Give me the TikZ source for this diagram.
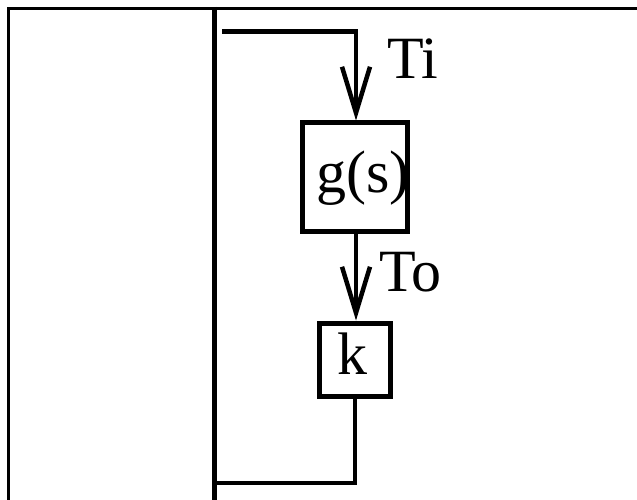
\documentclass[tikz,border=0pt]{standalone}
\usepackage{fontspec}
\setmainfont{Liberation Serif}
\usetikzlibrary{arrows.meta}
\begin{document}
\begin{tikzpicture}[x=1pt,y=-1pt,
  box/.style={draw,line width=5pt,inner sep=0pt},
  lbl/.style={inner sep=0pt,font=\fontsize{60}{60}\selectfont},
  wire/.style={line width=4.5pt},
  arr/.style={wire,-{Straight Barb[length=46pt,width=28pt,line width=4.5pt]}}]
\useasboundingbox (0,0) rectangle (637,500);
\coordinate (ftr) at (637,8.5);
\coordinate (ftl) at (8,8.5);
\coordinate (fbl) at (8,500);
\draw[line width=3pt] (ftr) -- (ftl) -- (fbl);
\coordinate (mt) at (214,7);
\coordinate (mb) at (214,500);
\draw[line width=5pt] (mt) -- (mb);
\node[box,minimum width=105pt,minimum height=108pt] (g) at (354.5,177) {};
\node[box,minimum width=71pt,minimum height=73pt] (k) at (354.5,359.5) {};
\node[lbl,anchor=base] (gt) at (363,192) {g(s)};
\node[lbl,anchor=base] (kt) at (352,374) {k};
\node[lbl,anchor=base west] (ti) at (387,79) {Ti};
\node[lbl,anchor=base west] (to) at (379,291) {To};
\coordinate (fs) at (222,31.5);
\coordinate (fc) at (356,31.5);
\draw[arr] (fs) -- (fc) -- (fc |- g.north);
\draw[arr] (g.south -| 356,0) -- (k.north -| 356,0);
\coordinate (bc) at (355,483);
\draw[wire] (k.south -| 355,0) -- (bc) -- (bc -| mt);
\end{tikzpicture}
\end{document}
